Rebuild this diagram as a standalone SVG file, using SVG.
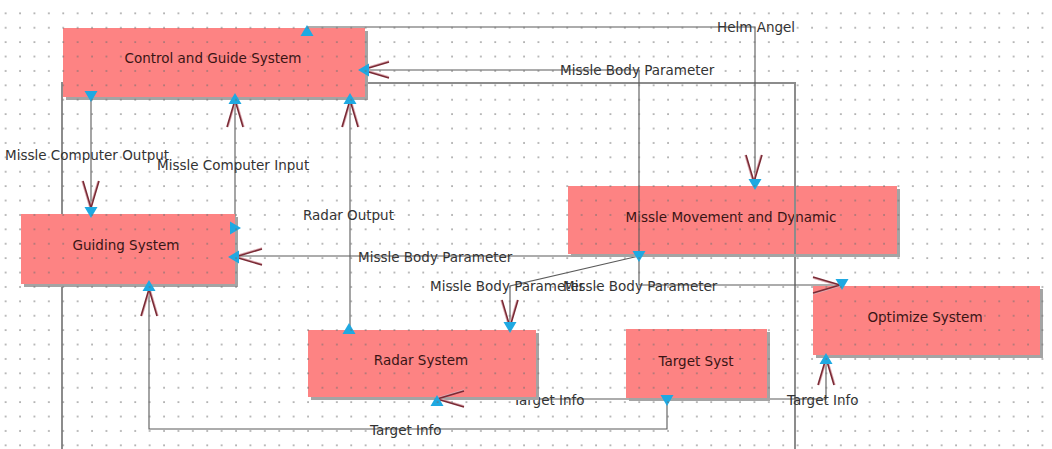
<svg xmlns="http://www.w3.org/2000/svg" xmlns:xlink="http://www.w3.org/1999/xlink" width="1052" height="449" viewBox="0 0 1052 449">
<style>
.box{fill:#fd8383}
.shadow{fill:#a4a4a4}
.ntext{font-family:"DejaVu Sans",sans-serif;font-size:13.5px;fill:#3a1414;text-anchor:middle}
.ltext{font-family:"DejaVu Sans",sans-serif;font-size:13.5px;fill:#333}
.conn{fill:none;stroke:#5a5a5a;stroke-width:1.1}
.frame{fill:none;stroke:#8c8c8c;stroke-width:2}
.vee{fill:none;stroke:#7a2a35;stroke-width:1.6}
.vees{fill:none;stroke:#dba9b0;stroke-width:1.4}
.tri{fill:#1ea9e2}
</style>
<defs>
<pattern id="dots" x="5.6" y="-1.1" width="14.4" height="14.4" patternUnits="userSpaceOnUse">
<rect x="-0.7" y="-0.7" width="1.5" height="1.5" fill="#6e6e6e"/>
<rect x="13.7" y="-0.7" width="1.5" height="1.5" fill="#6e6e6e"/>
<rect x="-0.7" y="13.7" width="1.5" height="1.5" fill="#6e6e6e"/>
<rect x="13.7" y="13.7" width="1.5" height="1.5" fill="#6e6e6e"/>
</pattern>
<g id="vee"><path class="vees" d="M-27,-7 L0,1 L-27,9"/><path class="vee" d="M-27,-8 L0,0 L-27,8"/></g>
<path id="tri" class="tri" d="M0,0 L-11,-6.5 L-11,6.5 Z"/>
</defs>
<rect width="1052" height="449" fill="#ffffff"/>

<g id="connectors">
<path class="frame" d="M62,449 V83 H795 V449"/>
<path id="c-helm" class="conn" d="M307,27 H755 V184"/>
<path id="c-mbp-top" class="conn" d="M639,256 V70 H362"/>
<path id="c-mbp-guide" class="conn" d="M639,256 H235"/>
<path id="c-mbp-radar" class="conn" d="M639,256 L510,286 V327"/>
<path id="c-mbp-opt" class="conn" d="M639,256 V285 H840"/>
<path id="c-mco" class="conn" d="M91,97 V210"/>
<path id="c-mci" class="conn" d="M235,228 V100"/>
<path id="c-radar-out" class="conn" d="M350,330 V100"/>
<path id="c-ti-radar" class="conn" d="M667,399 H437"/>
<path id="c-ti-guide" class="conn" d="M667,399 V429 H149 V287"/>
<path id="c-ti-opt" class="conn" d="M667,399 H826 V358"/>
<text class="ltext" x="717" y="32">Helm Angel</text>
<text class="ltext" x="560" y="75">Missle Body Parameter</text>
<text class="ltext" x="5" y="160">Missle Computer Output</text>
<text class="ltext" x="157" y="170">Missle Computer Input</text>
<text class="ltext" x="303" y="220">Radar Output</text>
<text class="ltext" x="358" y="262">Missle Body Parameter</text>
<text class="ltext" x="430" y="291">Missle Body Parameter</text>
<text class="ltext" x="563" y="291">Missle Body Parameter</text>
<text class="ltext" x="513" y="405">Target Info</text>
<text class="ltext" x="370" y="435">Target Info</text>
<text class="ltext" x="787" y="405">Target Info</text>
</g>

<g id="n-control">
<rect class="shadow" x="66" y="31" width="302" height="69"/>
<rect class="box" x="63" y="28" width="302" height="69"/>
<text class="ntext" x="213" y="63">Control and Guide System</text>
</g>
<g id="n-guiding">
<rect class="shadow" x="24" y="217" width="214" height="70"/>
<rect class="box" x="21" y="214" width="214" height="70"/>
<text class="ntext" x="126" y="250">Guiding System</text>
</g>
<g id="n-movement">
<rect class="shadow" x="571" y="189" width="329" height="68"/>
<rect class="box" x="568" y="186" width="329" height="68"/>
<text class="ntext" x="731" y="222">Missle Movement and Dynamic</text>
</g>
<g id="n-optimize">
<rect class="shadow" x="816" y="289" width="227" height="69"/>
<rect class="box" x="813" y="286" width="227" height="69"/>
<text class="ntext" x="925" y="322">Optimize System</text>
</g>
<g id="n-radar">
<rect class="shadow" x="311" y="333" width="228" height="67"/>
<rect class="box" x="308" y="330" width="228" height="67"/>
<text class="ntext" x="421" y="365">Radar System</text>
</g>
<g id="n-target">
<rect class="shadow" x="629" y="332" width="141" height="69"/>
<rect class="box" x="626" y="329" width="141" height="69"/>
<text class="ntext" x="696" y="366">Target Syst</text>
</g>

<g id="through-lines">
<path class="conn" d="M639,186 V254"/>
<path class="frame" d="M795,186 V254"/>
</g>

<g id="arrowheads">
<use xlink:href="#vee" transform="translate(362,70) rotate(180)"/>
<use xlink:href="#vee" transform="translate(235,100) rotate(-90)"/>
<use xlink:href="#vee" transform="translate(350,100) rotate(-90)"/>
<use xlink:href="#vee" transform="translate(754,182) rotate(90)"/>
<use xlink:href="#vee" transform="translate(91,208) rotate(90)"/>
<use xlink:href="#vee" transform="translate(235,257) rotate(180)"/>
<use xlink:href="#vee" transform="translate(149,289) rotate(-90)"/>
<use xlink:href="#vee" transform="translate(840,285)"/>
<use xlink:href="#vee" transform="translate(510,327) rotate(90)"/>
<use xlink:href="#vee" transform="translate(437,399) rotate(180)"/>
<use xlink:href="#vee" transform="translate(826,358) rotate(-90)"/>
</g>
<g id="ports">
<use xlink:href="#tri" transform="translate(307,25) rotate(-90)"/>
<use xlink:href="#tri" transform="translate(358,70) rotate(180)"/>
<use xlink:href="#tri" transform="translate(91,102) rotate(90)"/>
<use xlink:href="#tri" transform="translate(235,93) rotate(-90)"/>
<use xlink:href="#tri" transform="translate(350,93) rotate(-90)"/>
<use xlink:href="#tri" transform="translate(755,190) rotate(90)"/>
<use xlink:href="#tri" transform="translate(91,218) rotate(90)"/>
<use xlink:href="#tri" transform="translate(241,228)"/>
<use xlink:href="#tri" transform="translate(228,257) rotate(180)"/>
<use xlink:href="#tri" transform="translate(149,280) rotate(-90)"/>
<use xlink:href="#tri" transform="translate(639,262) rotate(90)"/>
<use xlink:href="#tri" transform="translate(842,290) rotate(90)"/>
<use xlink:href="#tri" transform="translate(510,333) rotate(90)"/>
<use xlink:href="#tri" transform="translate(349,323) rotate(-90)"/>
<use xlink:href="#tri" transform="translate(437,395) rotate(-90)"/>
<use xlink:href="#tri" transform="translate(667,406) rotate(90)"/>
<use xlink:href="#tri" transform="translate(826,353) rotate(-90)"/>
</g>
<rect width="1052" height="449" fill="url(#dots)" opacity="0.8" pointer-events="none"/>
</svg>
